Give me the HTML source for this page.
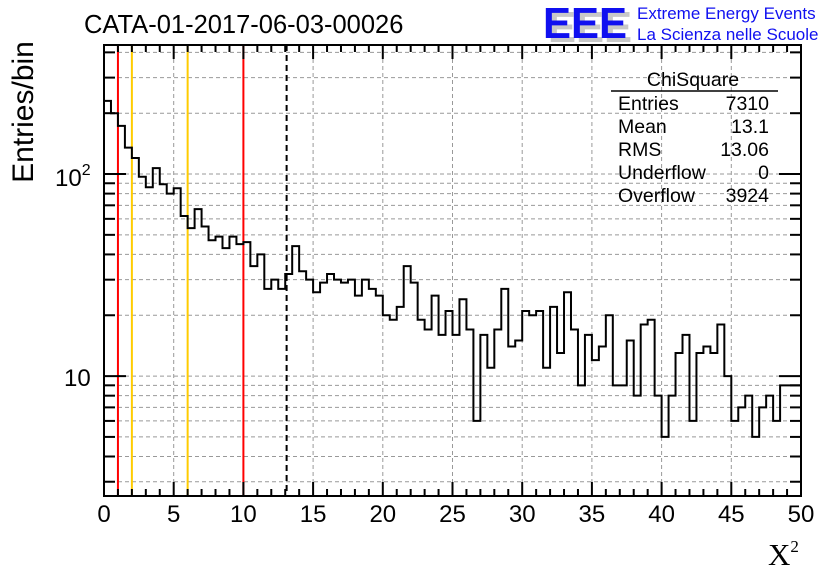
<!DOCTYPE html>
<html><head><meta charset="utf-8"><style>
body{margin:0;background:#fff;width:836px;height:572px;overflow:hidden}
svg{font-family:"Liberation Sans",sans-serif}
</style></head><body>
<svg id="c" width="836" height="572" viewBox="0 0 836 572">
<text x="84" y="33" font-size="25.5">CATA-01-2017-06-03-00026</text>
<g>
<text x="548" y="42" font-size="44" font-weight="bold" fill="#c8c8c8" textLength="84" lengthAdjust="spacingAndGlyphs">EEE</text>
<text x="543" y="38" font-size="44" font-weight="bold" fill="#1010f0" textLength="84" lengthAdjust="spacingAndGlyphs">EEE</text>
<text x="637" y="19" font-size="17" fill="#1010f0">Extreme Energy Events</text>
<text x="637" y="40" font-size="17" fill="#1010f0">La Scienza nelle Scuole</text>
</g>
<g id="grid"></g>
<g id="marks"></g>
<g id="axes"></g>
<g font-size="19.5">
<text x="693" y="86" text-anchor="middle">ChiSquare</text>
<line x1="611" y1="91" x2="778" y2="91" stroke="#000" stroke-width="1.5"/>
<text x="618" y="110">Entries</text><text x="769" y="110" text-anchor="end">7310</text>
<text x="618" y="133">Mean</text><text x="769" y="133" text-anchor="end">13.1</text>
<text x="618" y="156">RMS</text><text x="769" y="156" text-anchor="end">13.06</text>
<text x="618" y="179">Underflow</text><text x="769" y="179" text-anchor="end">0</text>
<text x="618" y="202">Overflow</text><text x="769" y="202" text-anchor="end">3924</text>
</g>
<text transform="translate(33,112) rotate(-90)" font-size="30" text-anchor="middle">Entries/bin</text>
<text x="768" y="565" font-size="31" font-family="Liberation Serif,serif">X<tspan font-size="17" dy="-13">2</tspan></text>
</svg>
<script>
const counts=[230,200,173,135,120,97,86,107,89,80,85,62,54,67,55,47,49,43,49,45,46,35,40,27,30,27,32,44,33,30,26,29,32,30,29,30,25,30,27,25,20,19,22,35,29,19,17,25,16,21,16,24,17,6,16,11,17,27,14,15,21,20,21,11,22,13,26,17,9,16,12,14,20,9,9,15,8,18,19,8,5,8,13,16,6,13,14,13,18,10,6,7,8,5,7,8,6,9,9,9];
const xTicks=[0,5,10,15,20,25,30,35,40,45,50];
const redLines=[1,10];
const orangeLines=[2,6];
const meanValue=[13.1];
const X0=104,X1=801,Y0=496,Y1=45,XMIN=0,XMAX=50,LMIN=Math.log10(2.55),LMAX=Math.log10(435);
const sx=v=>X0+(v-XMIN)/(XMAX-XMIN)*(X1-X0);
const sy=v=>Y0-(Math.log10(v)-LMIN)/(LMAX-LMIN)*(Y0-Y1);
const NS="http://www.w3.org/2000/svg";
function mk(p,t,a){const e=document.createElementNS(NS,t);for(const k in a)e.setAttribute(k,a[k]);p.appendChild(e);return e;}
const grid=document.getElementById('grid'),marks=document.getElementById('marks'),axes=document.getElementById('axes');
xTicks.forEach(v=>{if(v>XMIN&&v<XMAX){const l=mk(grid,'line',{x1:sx(v),x2:sx(v),y1:Y1,y2:Y0,stroke:'#999','stroke-dasharray':'4,3'});

}});
const yGridVals=[3,4,5,6,7,8,9,10,20,30,40,50,60,70,80,90,100,200,300,400];
yGridVals.forEach(v=>{const l=mk(grid,'line',{x1:X0,x2:X1,y1:sy(v),y2:sy(v),stroke:'#999','stroke-dasharray':'4,3'});


const w=(v==10||v==100)?22:11;
const t1=mk(axes,'line',{x1:X0,x2:X0+w,y1:sy(v),y2:sy(v),stroke:'#000','stroke-width':2});


const t2=mk(axes,'line',{x1:X1,x2:X1-w,y1:sy(v),y2:sy(v),stroke:'#000','stroke-width':2});

});
function vline(v,col,dash,name){const l=mk(marks,'line',{x1:sx(v),x2:sx(v),y1:Y1,y2:Y0,stroke:col,'stroke-width':2});if(dash)l.setAttribute('stroke-dasharray',dash);

}
redLines.forEach(v=>vline(v,'#ff0000',null,'red-cut-line'));
orangeLines.forEach(v=>vline(v,'#ffcc00',null,'orange-cut-line'));
meanValue.forEach(v=>vline(v,'#000','6,4','mean-line'));
const bw=(XMAX-XMIN)/counts.length;
let d='M'+sx(XMIN)+','+sy(counts[0]);
counts.forEach((c,i)=>{d+=' L'+sx(XMIN+i*bw)+','+sy(c)+' L'+sx(XMIN+(i+1)*bw)+','+sy(c);});
const h=mk(marks,'path',{d:d,fill:'none',stroke:'#000','stroke-width':2});


const f=mk(axes,'rect',{x:X0,y:Y1,width:X1-X0,height:Y0-Y1,fill:'none',stroke:'#000','stroke-width':2});


for(let v=XMIN;v<=XMAX+1e-9;v+=1){const major=Math.abs(v%5)<1e-9;const len=major?14:7;
const t=mk(axes,'line',{x1:sx(v),x2:sx(v),y1:Y0,y2:Y0-len,stroke:'#000','stroke-width':2});


const t2=mk(axes,'line',{x1:sx(v),x2:sx(v),y1:Y1,y2:Y1+len,stroke:'#000','stroke-width':2});

}
xTicks.forEach(v=>{const t=mk(axes,'text',{x:sx(v),y:522,'font-size':24,'text-anchor':'middle'});t.textContent=v;

});
const l100=mk(axes,'text',{x:55,y:sy(100)+12,'font-size':24});l100.innerHTML='10<tspan font-size="16" dy="-11">2</tspan>';


const l10=mk(axes,'text',{x:64,y:sy(10)+10,'font-size':24});l10.textContent='10';


</script>
</body></html>
